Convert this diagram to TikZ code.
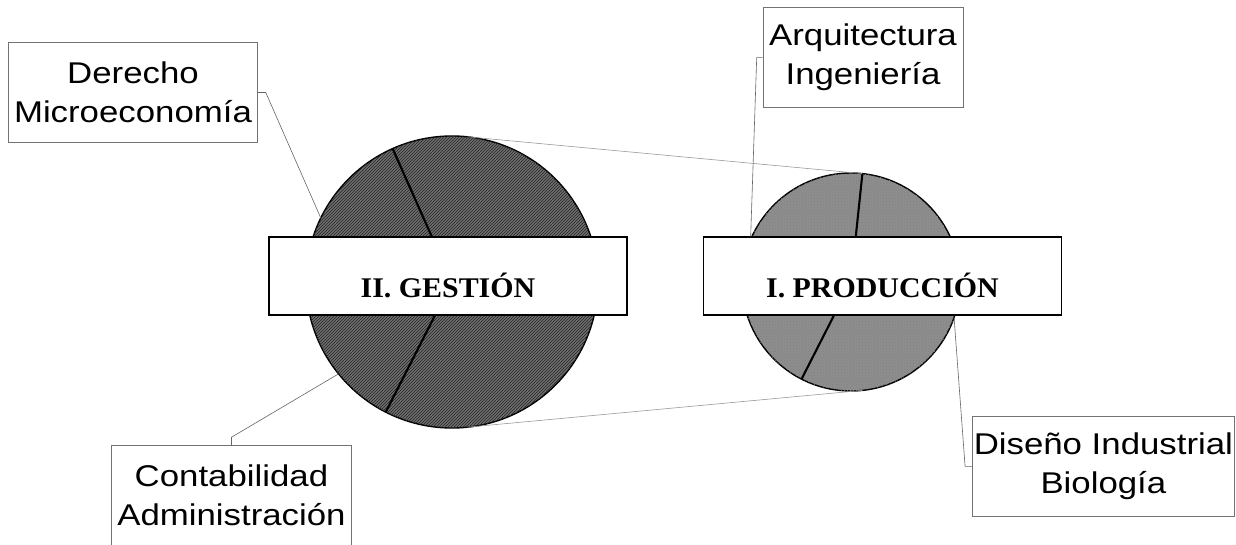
\documentclass[tikz,border=0pt]{standalone}
\usepackage{fontspec}
\usepackage{tikz}
\usetikzlibrary{positioning,patterns}
\newfontfamily\lblfont[FakeStretch=1.16]{Liberation Sans}
\newfontfamily\bandfont[FakeStretch=1.05]{Liberation Serif}
\definecolor{piedark}{HTML}{6E6E6E}
\definecolor{pielight}{HTML}{8E8E8E}

\begin{document}
\begin{tikzpicture}[x=1pt, y=1pt,
  pie/.style={circle, draw, line width=1.4pt, inner sep=0pt, outer sep=0pt},
  band/.style={draw, line width=1.1pt, fill=white, inner sep=0pt, minimum width=358pt, text height=61pt, text depth=17pt, font=\bandfont\bfseries\fontsize{28.5}{32}\selectfont},
  lbl/.style={draw=black!55, line width=0.6pt, fill=white, align=center, inner sep=0pt, minimum height=100pt, font=\lblfont\fontsize{30}{39}\selectfont},
  conn/.style={black!60, line width=0.6pt},
  tan/.style={black!40, line width=0.6pt},
  cut/.style={line width=2.1pt}
]
  \useasboundingbox[fill=white] (0,0) rectangle (1236,-545);

  % the two pies
  \node[pie, minimum size=292pt, fill=piedark, postaction={pattern=north east lines, pattern color=black!85}] (lc) at (452,-282) {};
  \node[pie, minimum size=218pt, fill=pielight, postaction={pattern=crosshatch dots, pattern color=black!50}] (rc) at (851,-282) {};
  \draw[cut] (lc.114.4) -- (lc.center) -- (lc.243.8);
  \draw[cut] (rc.84) -- (rc.center) -- (rc.243.7);

  \draw[tan] (lc.84.7) -- (rc.84.7);
  \draw[tan] (lc.-84.7) -- (rc.-84.7);

  \node[band] (gband) at (448,-276) {II. GESTIÓN};
  \node[band] (pband) at (882.5,-276) {I. PRODUCCIÓN};

  % the labels
  \node[lbl, minimum width=249pt, above left=36pt and 91pt of lc] (der) {Derecho\\Microeconomía};
  \node[lbl, minimum width=240pt, below left=60pt and -3pt of lc] (cont) {Contabilidad\\Administración};
  \node[lbl, minimum width=200pt, above=65pt of rc, xshift=12pt] (arq) {Arquitectura\\Ingeniería};
  \node[lbl, minimum width=262pt, below right=57pt and 44pt of rc] (dis) {Diseño Industrial\\Biología};

  \draw[conn] (der.east) -- ++(8pt,0) -- (lc.154);
  \draw[conn] (cont.north) -- ++(0,8pt) -- (lc.219);
  \draw[conn] (arq.west) -- ++(-6pt,0) -- (pband.north west -| rc.157);
  \draw[conn] (dis.west) -- ++(-7pt,0) -- (rc.341);
\end{tikzpicture}
\end{document}
